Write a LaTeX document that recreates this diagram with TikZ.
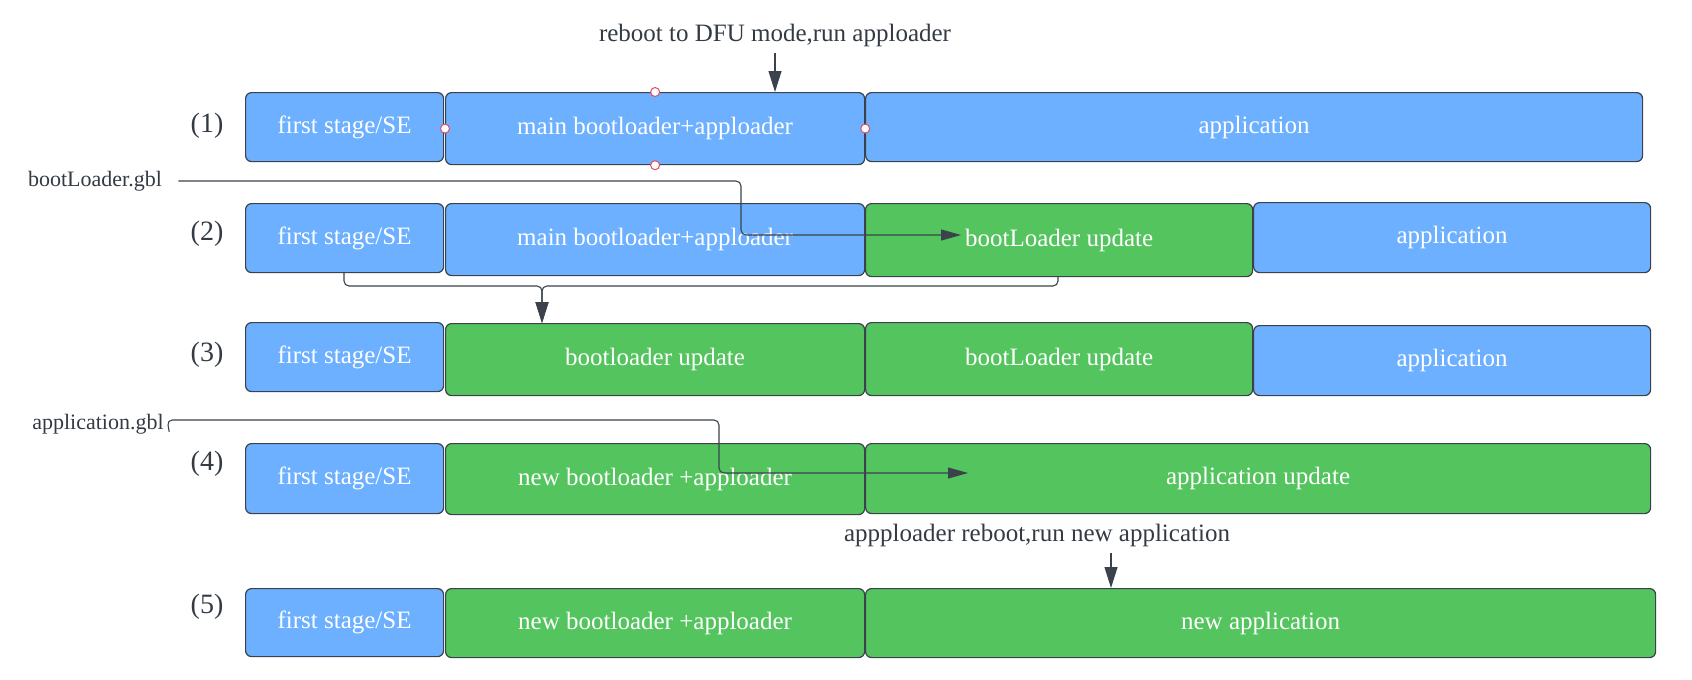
\documentclass[tikz,border=0pt]{standalone}
\usepackage{fontspec}
\setmainfont{Liberation Serif}
\usetikzlibrary{arrows.meta,positioning}
\definecolor{bblue}{HTML}{6CB0FF}
\definecolor{bgreen}{HTML}{54C45E}
\definecolor{edge}{HTML}{3B424C}
\definecolor{txt}{HTML}{333A44}
\definecolor{hred}{HTML}{E0505E}
\tikzset{
  seg/.style={draw=edge, line width=1.2pt, rounded corners=6pt, anchor=north west,
    text=white, font=\fontsize{25}{30}\selectfont, inner sep=0pt},
  bluebox/.style={seg, fill=bblue},
  greenbox/.style={seg, fill=bgreen},
  rowlab/.style={text=txt, font=\fontsize{28}{32}\selectfont},
  note/.style={text=txt, font=\fontsize{25}{30}\selectfont},
  fname/.style={text=txt, font=\fontsize{22}{26}\selectfont},
  conn/.style={draw=edge, line width=1.1pt, rounded corners=5pt},
  arr/.style={-{Triangle[length=21pt,width=13pt]}},
  harr/.style={-{Triangle[length=20pt,width=11pt]}},
  handle/.style={circle, draw=hred, fill=white, line width=1pt, minimum size=9pt, inner sep=0pt}
}
\newcommand{\seg}[7]{% style, name, x1, y1, x2, y2, text
  \node[#1, minimum width=#5pt-#3pt, minimum height=#6pt-#4pt] (#2) at (#3,#4) {#7};}
\begin{document}
\begin{tikzpicture}[x=1pt,y=-1pt]
\useasboundingbox (0,0) rectangle (1692,680);
% row 1
\seg{bluebox}{fsA}{245}{92}{443}{161}{first stage/SE}
\seg{bluebox}{mbA}{445}{92}{864}{164}{main bootloader+apploader}
\seg{bluebox}{apA}{865}{92}{1642}{161}{application}
% row 2
\seg{bluebox}{fsB}{245}{203}{443}{272}{first stage/SE}
\seg{bluebox}{mbB}{445}{203}{864}{275}{main bootloader+apploader}
\seg{greenbox}{buB}{865}{203}{1252}{276}{bootLoader update}
\seg{bluebox}{apB}{1253}{202}{1650}{272}{application}
% row 3
\seg{bluebox}{fsC}{245}{322}{443}{391}{first stage/SE}
\seg{greenbox}{blC}{445}{323}{864}{395}{bootloader update}
\seg{greenbox}{buC}{865}{322}{1252}{395}{bootLoader update}
\seg{bluebox}{apC}{1253}{325}{1650}{395}{application}
% row 4
\seg{bluebox}{fsD}{245}{443}{443}{513}{first stage/SE}
\seg{greenbox}{nbD}{445}{443}{864}{514}{new bootloader +apploader}
\seg{greenbox}{auD}{865}{443}{1650}{513}{application update}
% row 5
\seg{bluebox}{fsE}{245}{588}{443}{656}{first stage/SE}
\seg{greenbox}{nbE}{445}{588}{864}{657}{new bootloader +apploader}
\seg{greenbox}{naE}{865}{588}{1655}{657}{new application}
% row labels
\node[rowlab] (l1) at (207,126) {(1)};
\node[rowlab] (l2) at (207,234) {(2)};
\node[rowlab] (l3) at (207,355) {(3)};
\node[rowlab] (l4) at (207,464) {(4)};
\node[rowlab] (l5) at (207,607) {(5)};
% notes
\node[note] (n1) at (775,35) {reboot to DFU mode,run apploader};
\node[note] (n2) at (1037,535) {appploader reboot,run new application};
\node[fname] (f1) at (95,181) {bootLoader.gbl};
\node[fname] (f2) at (98,424) {application.gbl};
% arrows from notes
\draw[conn,arr] (n1.south -| 775,0) ++(0,3) coordinate (t1) -- (t1 |- mbA.north);
\draw[conn,arr] (n2.south -| 1111,0) ++(0,3) coordinate (t2) -- (t2 |- naE.north);
% bootLoader.gbl connector
\coordinate (e1) at (961,235);
\draw[conn,harr] (f1.east) ++(13,0) -- (741,181) -- (741,235) -- (e1);
% application.gbl connector
\coordinate (e2) at (968,473);
\draw[conn,harr] (f2.east) ++(2,8) -- (f2.east |- 0,420) -- (719,420) -- (719,473) -- (e2);
% merge connector rows 2 -> 3
\coordinate (m) at (542,286);
\draw[conn,arr] (fsB.south -| 344,0) -- (344,286) -- (m) -- (m |- blC.north);
\draw[conn,arr] (buB.south -| 1058,0) -- (1058,286) -- (m) -- (m |- blC.north);
% selection handles
\node[handle] (h1) at (mbA.north) {};
\node[handle] (h2) at (mbA.south) {};
\node[handle] (h3) at (mbA.west) {};
\node[handle] (h4) at (mbA.east) {};
\end{tikzpicture}
\end{document}
